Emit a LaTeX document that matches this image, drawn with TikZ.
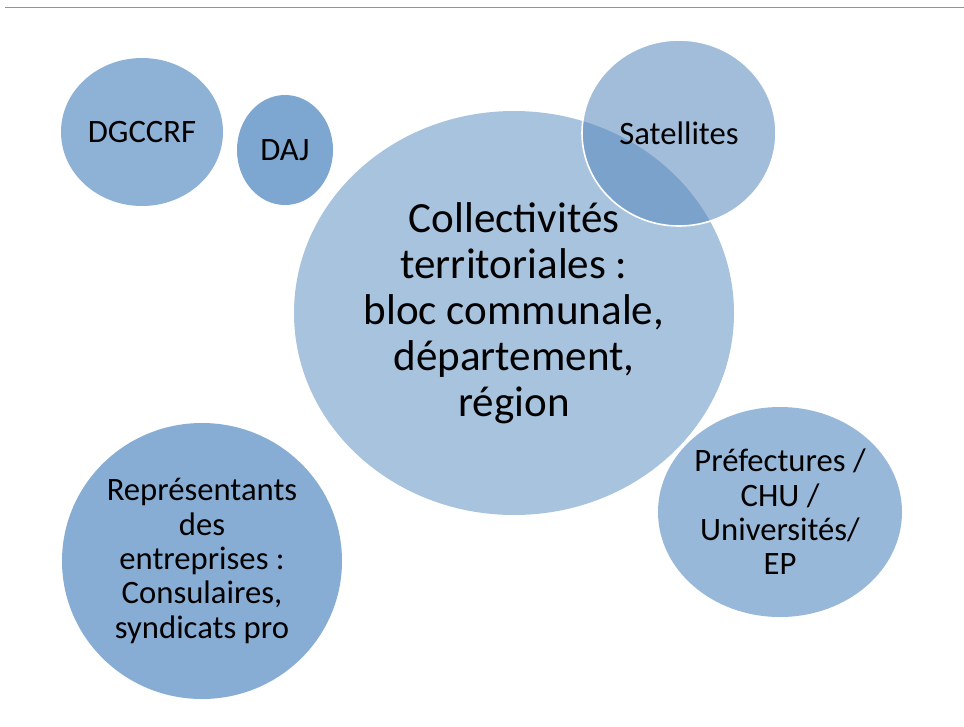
\documentclass[tikz,border=0pt]{standalone}
\usepackage{fontspec}
\setmainfont{Carlito}
\usetikzlibrary{shapes.geometric}

\definecolor{bubA}{RGB}{142,177,214}
\definecolor{bubB}{RGB}{125,167,208}
\definecolor{bubC}{RGB}{135,173,213}
\definecolor{bubD}{RGB}{151,184,217}
\definecolor{bubBig}{RGB}{168,195,222}
\definecolor{bubSat}{RGB}{85,135,187}
\definecolor{rulegray}{RGB}{143,148,153}

\begin{document}
\begin{tikzpicture}[x=0.75pt, y=-0.75pt,
  bb/.style={ellipse, inner sep=0pt, align=center, font=\fontsize{24.5}{25.8}\selectfont},
  big/.style={bb, font=\fontsize{32.3}{34.5}\selectfont}
]
\useasboundingbox (0,0) rectangle (964,726);
\draw[line width=1.1pt, rulegray] (5,7.5) -- (964,7.5);
\foreach \n/\x/\y/\rx/\ry/\c/\t in {
 g/142/132/81/74/bubA/{DGCCRF},
 d/285/150/48/55/bubB/{DAJ},
 r/202/561/140/138/bubC/{Représentants\\des\\entreprises :\\Consulaires,\\syndicats pro},
 p/780/512/122/105/bubD/{Préfectures /\\CHU /\\Universités/\\EP}}
{
 \node[bb, fill=\c, minimum width={1.5*\rx pt}, minimum height={1.5*\ry pt}] (\n) at (\x,\y) {\t};
}
\node[big, fill=bubBig, minimum width=330pt, minimum height=303pt] (c) at (514,313)
 {Collectivités\\territoriales :\\bloc communale,\\département,\\région};
\node[bb, fill=bubSat, fill opacity=0.55, text opacity=1, draw=white, line width=1.2pt,
 minimum width=145.5pt, minimum height=139.5pt] (sat) at (679,133) {Satellites};
\end{tikzpicture}
\end{document}
